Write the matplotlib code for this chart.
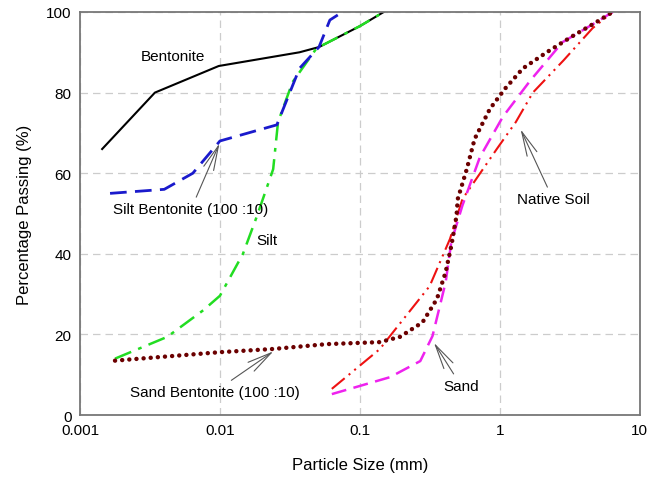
import matplotlib.pyplot as plt
import numpy as np

plt.rcParams['font.family'] = ['Liberation Sans', 'DejaVu Sans']

# particle size (mm) / percentage passing (%)
bent_x = [0.00144, 0.00343, 0.0098, 0.037, 0.051, 0.1, 0.148]
bent_y = [66, 80, 86.6, 90, 91.3, 96.5, 100]

siltb_x = [0.00164, 0.004, 0.0064, 0.01, 0.0255, 0.037, 0.051, 0.061, 0.075]
siltb_y = [55, 56, 60, 68, 72, 86, 91.3, 98, 100]

silt_x = [0.00178, 0.0042, 0.0076, 0.01, 0.0146, 0.0184, 0.024, 0.026, 0.033, 0.049, 0.1, 0.148]
silt_y = [14, 19.4, 26, 29.6, 40, 49.4, 61, 72.7, 82.6, 91, 96.5, 100]

sandb_x = [0.00178, 0.01, 0.024, 0.058, 0.139, 0.193, 0.28, 0.355, 0.41, 0.45, 0.49,
           0.5, 0.58, 0.66, 0.85, 1.09, 1.46, 2.16, 3.3, 4.9, 6.4]
sandb_y = [13.5, 15.6, 16.4, 17.6, 18.1, 19.4, 23, 28.8, 35.5, 42, 49.4,
           53.6, 61, 68.5, 76, 81, 86, 90, 94, 97.5, 100]

sand_x = [0.063, 0.164, 0.27, 0.33, 0.41, 0.45, 0.54, 0.72, 1.05, 1.65, 2.8, 4.9, 6.4]
sand_y = [5.2, 9.4, 13.4, 19.6, 33, 43, 52, 64, 74, 83, 92.5, 97.5, 100]

native_x = [0.063, 0.139, 0.164, 0.315, 0.44, 0.54, 0.95, 1.3, 1.72, 2.85, 4.6, 6.4]
native_y = [6.5, 16.4, 19.6, 32, 43.7, 53.6, 66, 72.7, 80, 88, 96, 100]

fig = plt.figure(figsize=(6.61, 4.81), dpi=100)
ax = fig.add_axes([0.121, 0.135, 0.847, 0.838])

ax.plot(bent_x, bent_y, color='black', lw=1.5)
ax.plot(silt_x, silt_y, color='#22dd22', lw=1.8, linestyle=(0, (7, 3, 1.5, 3)))
ax.plot(siltb_x, siltb_y, color='#1a1acc', lw=2, linestyle=(0, (6, 3)))
ax.plot(native_x, native_y, color='#ee1111', lw=1.5, linestyle=(0, (8, 2.5, 1, 2.5, 1, 2.5)))
ax.plot(sand_x, sand_y, color='#ee22ee', lw=1.8, linestyle=(0, (6, 3)))
ax.plot(sandb_x, sandb_y, color='#6b0000', lw=3.2, linestyle=(0, (0.01, 1.6)),
        dash_capstyle='round')

ax.set_xscale('log')
ax.set_xlim(0.001, 10)
ax.set_ylim(0, 100)
ax.set_xticks([0.001, 0.01, 0.1, 1, 10])
ax.set_xticklabels(['0.001', '0.01', '0.1', '1', '10'])
ax.set_yticks([0, 20, 40, 60, 80, 100])
ax.minorticks_off()
ax.tick_params(length=0, labelsize=11, pad=6)
ax.grid(True, color='#cccccc', linestyle=(0, (6, 4)), lw=0.9)
for s in ax.spines.values():
    s.set_color('#777777')
    s.set_linewidth(1.3)

ax.set_xlabel('Particle Size (mm)', fontsize=12, labelpad=14)
ax.set_ylabel('Percentage Passing (%)', fontsize=12, labelpad=10)

arr = dict(arrowstyle='->,head_length=1.6,head_width=0.35', color='#555555', lw=0.8)
ax.text(0.0046, 89, 'Bentonite', fontsize=11, ha='center', va='center')
ax.annotate('Silt Bentonite (100 :10)', xy=(0.0101, 68), xytext=(0.0062, 51),
            fontsize=11, ha='center', va='center', arrowprops=arr)
ax.text(0.0215, 43.5, 'Silt', fontsize=11, ha='center', va='center')
ax.annotate('Sand Bentonite (100 :10)', xy=(0.025, 16.2), xytext=(0.0092, 5.8),
            fontsize=11, ha='center', va='center', arrowprops=arr)
ax.annotate('Sand', xy=(0.33, 18.5), xytext=(0.53, 7.2),
            fontsize=11, ha='center', va='center', arrowprops=arr)
ax.annotate('Native Soil', xy=(1.38, 71.5), xytext=(2.4, 53.5),
            fontsize=11, ha='center', va='center', arrowprops=arr)

plt.savefig('out.png', dpi=100)
